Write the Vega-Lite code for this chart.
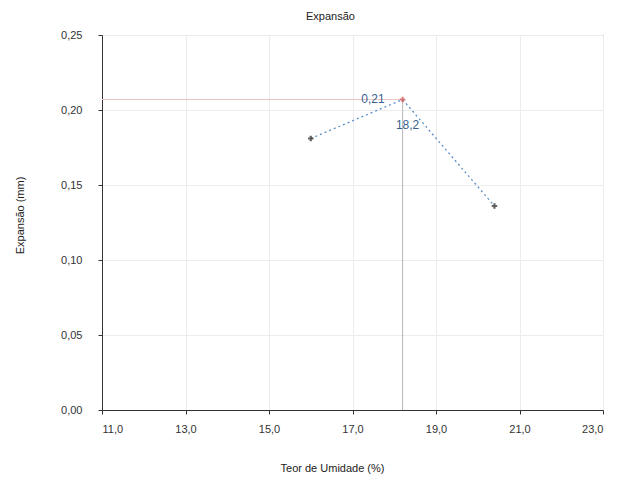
{
  "$schema": "https://vega.github.io/schema/vega-lite/v6.json",
  "width": 501,
  "height": 375,
  "autosize": "none",
  "padding": {"left": 102, "top": 35, "right": 25, "bottom": 74},
  "background": "white",
  "title": {"text": "Expansão", "fontSize": 11, "font": "Liberation Sans", "fontWeight": "normal", "color": "#222", "offset": 7, "dx": -22},
  "config": {
    "locale": {"number": {"decimal": ",", "thousands": ".", "grouping": [3], "currency": ["R$", ""]}},
    "view": {"stroke": "#444", "strokeWidth": 1},
    "axis": {"labelFont": "Liberation Sans", "titleFont": "Liberation Sans", "labelFontSize": 11, "titleFontSize": 11, "titleFontWeight": "normal", "labelColor": "#333", "titleColor": "#222", "gridColor": "#ececec", "domainColor": "#333", "tickColor": "#333"}
  },
  "data": {"values": [
    {"x": 16.0, "y": 0.181, "pt": "a"},
    {"x": 18.2, "y": 0.207, "pt": "peak"},
    {"x": 20.4, "y": 0.136, "pt": "b"}
  ]},
  "layer": [
    {
      "transform": [{"filter": "datum.pt == 'peak'"}],
      "mark": {"type": "rule", "color": "#e8c4c4", "strokeWidth": 1},
      "encoding": {
        "x": {"field": "x", "type": "quantitative", "scale": {"domain": [11, 23], "nice": false, "zero": false},
          "axis": {"values": [11, 13, 15, 17, 19, 21, 23], "labelExpr": "replace(format(datum.value, '.1f'), '.', ',')", "title": "Teor de Umidade (%)", "titleX": 230, "titleY": 52, "labelPadding": 9, "tickSize": 4}},
        "x2": {"datum": 11},
        "y": {"field": "y", "type": "quantitative", "scale": {"domain": [0, 0.25], "nice": false},
          "axis": {"values": [0, 0.05, 0.1, 0.15, 0.2, 0.25], "labelExpr": "replace(format(datum.value, '.2f'), '.', ',')", "title": "Expansão (mm)", "titleX": -77, "titleY": 180, "labelPadding": 16, "tickSize": 4}}
      }
    },
    {
      "transform": [{"filter": "datum.pt == 'peak'"}],
      "mark": {"type": "rule", "color": "#b8b8b8", "strokeWidth": 1},
      "encoding": {
        "x": {"field": "x", "type": "quantitative"},
        "y": {"field": "y", "type": "quantitative"},
        "y2": {"datum": 0}
      }
    },
    {
      "mark": {"type": "line", "interpolate": "linear", "strokeDash": [2, 3], "color": "#5b8fc9", "strokeWidth": 1.3},
      "encoding": {
        "x": {"field": "x", "type": "quantitative"},
        "y": {"field": "y", "type": "quantitative"}
      }
    },
    {
      "transform": [{"filter": "datum.pt != 'peak'"}],
      "mark": {"type": "point", "shape": "cross", "filled": true, "size": 30, "color": "#222"},
      "encoding": {
        "x": {"field": "x", "type": "quantitative"},
        "y": {"field": "y", "type": "quantitative"}
      }
    },
    {
      "transform": [{"filter": "datum.pt == 'peak'"}],
      "mark": {"type": "point", "shape": "cross", "filled": true, "size": 30, "color": "#d05050"},
      "encoding": {
        "x": {"field": "x", "type": "quantitative"},
        "y": {"field": "y", "type": "quantitative"}
      }
    },
    {
      "transform": [{"filter": "datum.pt == 'peak'"}],
      "mark": {"type": "text", "font": "Liberation Sans", "fontSize": 12, "color": "#3a5f8f", "align": "right", "dx": -18, "dy": -1},
      "encoding": {
        "x": {"field": "x", "type": "quantitative"},
        "y": {"field": "y", "type": "quantitative"},
        "text": {"field": "y", "type": "quantitative", "format": ".2f"}
      }
    },
    {
      "transform": [{"filter": "datum.pt == 'peak'"}],
      "mark": {"type": "text", "font": "Liberation Sans", "fontSize": 12, "color": "#3a5f8f", "align": "center", "dx": 5, "dy": 25},
      "encoding": {
        "x": {"field": "x", "type": "quantitative"},
        "y": {"field": "y", "type": "quantitative"},
        "text": {"field": "x", "type": "quantitative", "format": ".1f"}
      }
    }
  ]
}
